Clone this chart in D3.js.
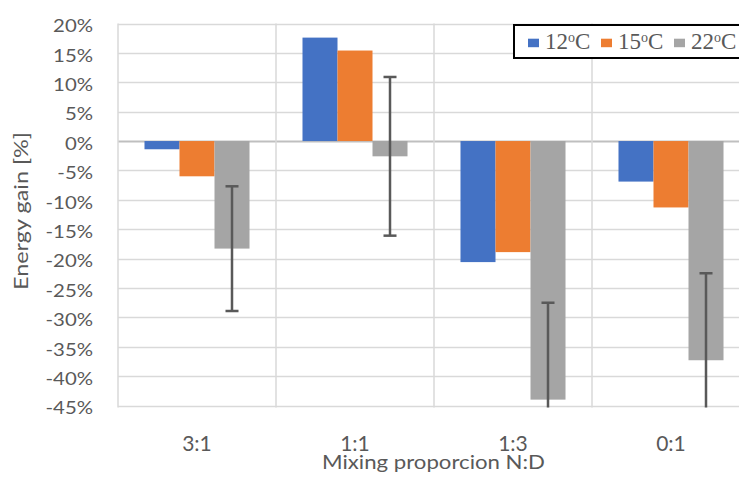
<!DOCTYPE html>
<html><head><meta charset="utf-8">
<script src="https://cdn.jsdelivr.net/npm/d3@7"></script>
<style>body{margin:0;background:#fff;} svg{display:block;}</style>
</head><body>
<svg id="chart" width="739" height="477"></svg>
<script>
const categories = ["3:1", "1:1", "1:3", "0:1"];
const seriesNames = ["12", "15", "22"];
const colors = ["#4472C4", "#ED7D31", "#A5A5A5"];
const values12 = [-1.4, 17.6, -20.6, -6.9];
const values15 = [-6.0, 15.4, -18.9, -11.3];
const values22 = [-18.3, -2.6, -44.0, -37.3];
const errors22 = [10.6, 13.5, 16.5, 14.8];
const yTicks = [20, 15, 10, 5, 0, -5, -10, -15, -20, -25, -30, -35, -40, -45];

const series = [values12, values15, values22];
const svg = d3.select("#chart");
const pLeft = 118, pRight = 750, pTop = 23.5, pBottom = 405.5;
const x = d3.scaleBand().domain(categories).range([pLeft, pRight]).paddingInner(0).paddingOuter(0);
const y = d3.scaleLinear().domain([-45, 20]).range([pBottom, pTop]);
const inner = d3.scaleBand().domain(seriesNames).range([0, x.bandwidth()]).paddingInner(0).paddingOuter(0.757);
const font = "Lato, 'Open Sans', sans-serif";
const txt = "#595959";

// horizontal gridlines
svg.append("g").selectAll("line").data(yTicks).join("line")
  .attr("x1", pLeft).attr("x2", pRight)
  .attr("y1", d => Math.round(y(d)) + 0.5).attr("y2", d => Math.round(y(d)) + 0.5)
  .attr("stroke", d => d === 0 ? "#bfbfbf" : "#d9d9d9").attr("stroke-width", d => d === 0 ? 2 : 1.5);
// vertical gridlines
svg.append("g").selectAll("line").data(categories.concat(["end"])).join("line")
  .attr("x1", (d, i) => pLeft + i * x.bandwidth()).attr("x2", (d, i) => pLeft + i * x.bandwidth())
  .attr("y1", pTop).attr("y2", pBottom + 2)
  .attr("stroke", "#d9d9d9").attr("stroke-width", 1.5);

// bars
const g = svg.append("g");
series.forEach((vals, si) => {
  g.selectAll(".b" + si).data(vals).join("rect")
    .attr("x", (d, i) => x(categories[i]) + inner(seriesNames[si]))
    .attr("width", inner.bandwidth())
    .attr("y", d => y(Math.max(0, d)))
    .attr("height", d => Math.abs(y(d) - y(0)))
    .attr("fill", colors[si]);
});

// error bars
svg.append("clipPath").attr("id", "clip").append("rect")
  .attr("x", pLeft).attr("y", 0).attr("width", pRight - pLeft).attr("height", pBottom + 2);
const eg = svg.append("g").attr("clip-path", "url(#clip)");
values22.forEach((v, i) => {
  const cx = x(categories[i]) + inner("22") + inner.bandwidth() / 2;
  const hi = v + errors22[i], lo = v - errors22[i];
  eg.append("line").attr("x1", cx).attr("x2", cx).attr("y1", y(hi)).attr("y2", y(lo))
    .attr("stroke", "#595959").attr("stroke-width", 2.5);
  [hi, lo].forEach(e => eg.append("line").attr("x1", cx - 6.5).attr("x2", cx + 6.5)
    .attr("y1", y(e)).attr("y2", y(e)).attr("stroke", "#595959").attr("stroke-width", 2.5));
});

// y axis labels
svg.append("g").selectAll("text").data(yTicks).join("text")
  .attr("transform", d => `translate(93,${y(d) + 8.8}) scale(1.15,1)`)
  .attr("text-anchor", "end").attr("font-family", font).attr("font-size", 17.7)
  .attr("fill", txt).text(d => d + "%");

// x labels
svg.append("g").selectAll("text").data(categories).join("text")
  .attr("x", d => x(d) + x.bandwidth() / 2).attr("y", 451)
  .attr("text-anchor", "middle").attr("font-family", font).attr("font-size", 21)
  .attr("fill", txt).text(d => d);

svg.append("text").attr("x", 433.5).attr("y", 469)
  .attr("text-anchor", "middle").attr("font-family", font).attr("font-size", 18.5)
  .attr("textLength", 223).attr("lengthAdjust", "spacingAndGlyphs")
  .attr("fill", txt).text("Mixing proporcion N:D");

svg.append("text").attr("transform", "translate(28,211) rotate(-90)")
  .attr("text-anchor", "middle").attr("font-family", font).attr("font-size", 20)
  .attr("textLength", 158).attr("lengthAdjust", "spacingAndGlyphs")
  .attr("fill", txt).text("Energy gain [%]");

// legend
const lg = svg.append("g");
lg.append("rect").attr("x", 514).attr("y", 25).attr("width", 240).attr("height", 33)
  .attr("fill", "#fff").attr("stroke", "#000").attr("stroke-width", 2);
const legX = [528, 601, 674];
seriesNames.forEach((s, i) => {
  lg.append("rect").attr("x", legX[i]).attr("y", 38.7).attr("width", 11).attr("height", 8.5).attr("fill", colors[i]);
  const t = lg.append("text").attr("x", legX[i] + 17).attr("y", 49.3)
    .attr("font-family", "'Liberation Serif', 'Times New Roman', serif").attr("font-size", 23).attr("fill", txt);
  t.append("tspan").text(s);
  t.append("tspan").attr("font-size", 14).attr("dy", -7).text("o");
  t.append("tspan").attr("dy", 7).text("C");
});
</script>
</body></html>
